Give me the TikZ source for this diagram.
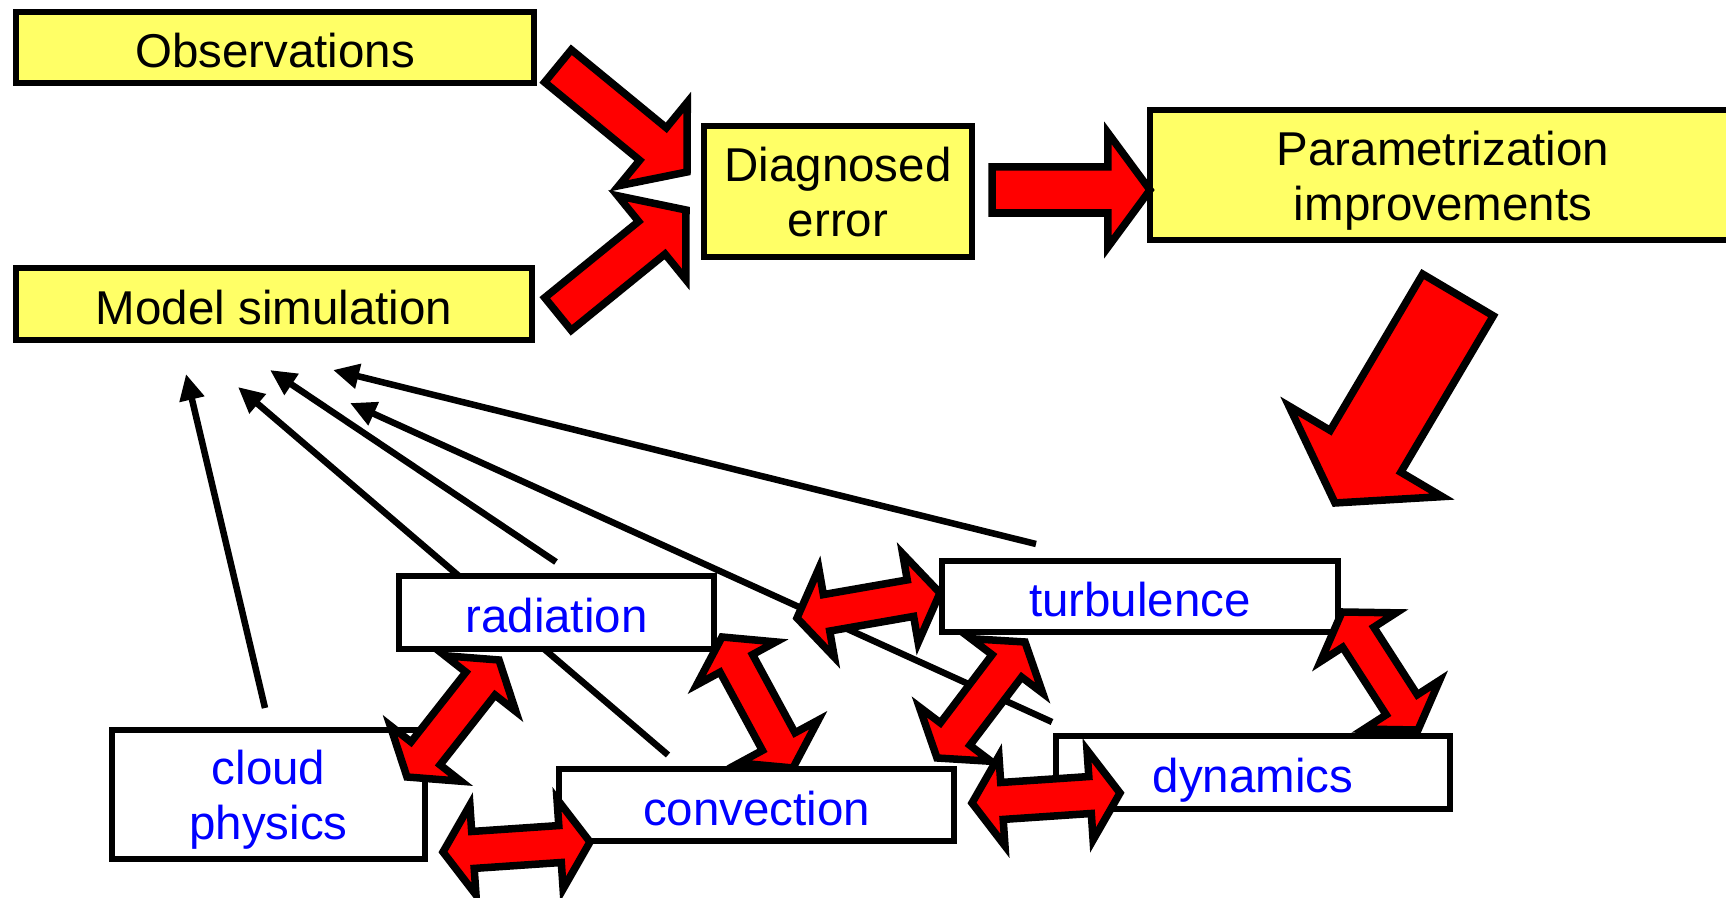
\documentclass[tikz,border=0pt]{standalone}
\usepackage{fontspec}
\setmainfont{Liberation Sans}
\usetikzlibrary{arrows.meta,calc,backgrounds}

\definecolor{boxyellow}{RGB}{255,255,102}

% block arrow: start, tip, shaft half width, head half width, head length
\newcommand{\blockarrow}[5]{%
  \coordinate (hb) at ($(#2)!#5!(#1)$);
  \draw[redblock] ($(#1)!#3!90:(#2)$) -- ($(hb)!#3!90:(#2)$) -- ($(hb)!#4!90:(#2)$) -- (#2)
    -- ($(hb)!#4!-90:(#2)$) -- ($(hb)!#3!-90:(#2)$) -- ($(#1)!#3!-90:(#2)$) -- cycle;}
% double block arrow between two tips
\newcommand{\twowayarrow}[2]{%
  \coordinate (ha) at ($(#1)!0.30cm!(#2)$);
  \coordinate (hb) at ($(#2)!0.30cm!(#1)$);
  \draw[redblock] (#1) -- ($(ha)!0.45cm!90:(#2)$) -- ($(ha)!0.185cm!90:(#2)$)
    -- ($(hb)!0.185cm!90:(#2)$) -- ($(hb)!0.45cm!90:(#2)$) -- (#2)
    -- ($(hb)!0.45cm!-90:(#2)$) -- ($(hb)!0.185cm!-90:(#2)$)
    -- ($(ha)!0.185cm!-90:(#2)$) -- ($(ha)!0.45cm!-90:(#2)$) -- cycle;}

\begin{document}
\begin{tikzpicture}[x=0.01cm, y=-0.01cm,
    every node/.style={font=\fontsize{13.5}{15.6}\selectfont, align=center, inner sep=0pt, line width=0.06cm},
    oneline/.style={text height=0.48cm, text depth=0.08cm},
    twoline/.style={text height=1.0cm, text depth=0.1cm},
    ybox/.style={draw, fill=boxyellow},
    wbox/.style={draw, fill=white, text=blue},
    redblock/.style={fill=red, draw=black, line width=0.075cm, line join=miter},
    thinarrow/.style={-{Triangle[length=0.26cm, width=0.24cm]}, line width=0.065cm}]
    \useasboundingbox (0,0) rectangle (1726,898);

    % top row
    \node (Obs) [ybox, oneline, minimum width=5.18cm, minimum height=0.71cm] at (275,47.5) {Observations};
    \node (Mod) [ybox, oneline, minimum width=5.16cm, minimum height=0.72cm] at (274,304) {Model simulation};
    \node (Diag) [ybox, twoline, minimum width=2.68cm, minimum height=1.31cm] at (838,191.5) {Diagnosed\\error};
    \node (Par) [ybox, twoline, minimum width=5.85cm, minimum height=1.30cm] at (1443,175) {Parametrization\\improvements};

    % parametrizations
    \node (Rad) [wbox, oneline, minimum width=3.15cm, minimum height=0.73cm] at (556.5,612.5) {radiation};
    \node (Turb) [wbox, oneline, minimum width=3.96cm, minimum height=0.71cm] at (1140,596.5) {turbulence};
    \node (Cld) [wbox, twoline, minimum width=3.13cm, minimum height=1.29cm] at (268.5,794.5) {cloud\\physics};
    \node (Conv) [wbox, oneline, minimum width=3.95cm, minimum height=0.72cm] at (756.5,805) {convection};
    \node (Dyn) [wbox, oneline, minimum width=3.94cm, minimum height=0.73cm] at (1253,772.5) {dynamics};

    % feedback into the model
    \coordinate (cldtop) at (265,708);   \coordinate (cldtip) at (186,374);
    \coordinate (convtop) at (668,755);  \coordinate (convtip) at (238,387);
    \coordinate (radtop) at (556,562);   \coordinate (radtip) at (270,370);
    \coordinate (dyntop) at (1052,722);  \coordinate (dyntip) at (350,403);
    \coordinate (turbtop) at (1036,544); \coordinate (turbtip) at (333,370);
    \begin{scope}[on background layer]
        \draw[thinarrow] (cldtop) -- (cldtip);
        \draw[thinarrow] (convtop) -- (convtip);
        \draw[thinarrow] (radtop) -- (radtip);
        \draw[thinarrow] (dyntop) -- (dyntip);
        \draw[thinarrow] (turbtop) -- (turbtip);
    \end{scope}

    % main flow
    \coordinate (obsA) at (558,66);   \coordinate (obsB) at (687,172);
    \coordinate (modA) at (558,314);  \coordinate (modB) at (686,210);
    \coordinate (diagA) at (992,190); \coordinate (diagB) at (1150,190);
    \coordinate (parA) at (1458,295); \coordinate (parB) at (1335,503);
    \blockarrow{obsA}{obsB}{0.21cm}{0.54cm}{0.44cm}
    \blockarrow{modA}{modB}{0.21cm}{0.54cm}{0.44cm}
    \blockarrow{diagA}{diagB}{0.23cm}{0.57cm}{0.42cm}
    \blockarrow{parA}{parB}{0.41cm}{0.89cm}{0.60cm}

    % interactions
    \coordinate (rc1) at (407,777);  \coordinate (rc2) at (499,660);
    \coordinate (cr1) at (722,637);  \coordinate (cr2) at (793,768);
    \coordinate (tr1) at (797,618);  \coordinate (tr2) at (940,593);
    \coordinate (tc1) at (1025,642); \coordinate (tc2) at (937,758);
    \coordinate (dc1) at (972,803);  \coordinate (dc2) at (1120,793);
    \coordinate (td1) at (1342,612); \coordinate (td2) at (1418,730);
    \coordinate (cc1) at (443,852);  \coordinate (cc2) at (590,842);
    \twowayarrow{rc1}{rc2}
    \twowayarrow{cr1}{cr2}
    \twowayarrow{tr1}{tr2}
    \twowayarrow{tc1}{tc2}
    \twowayarrow{dc1}{dc2}
    \twowayarrow{td1}{td2}
    \twowayarrow{cc1}{cc2}
\end{tikzpicture}
\end{document}
